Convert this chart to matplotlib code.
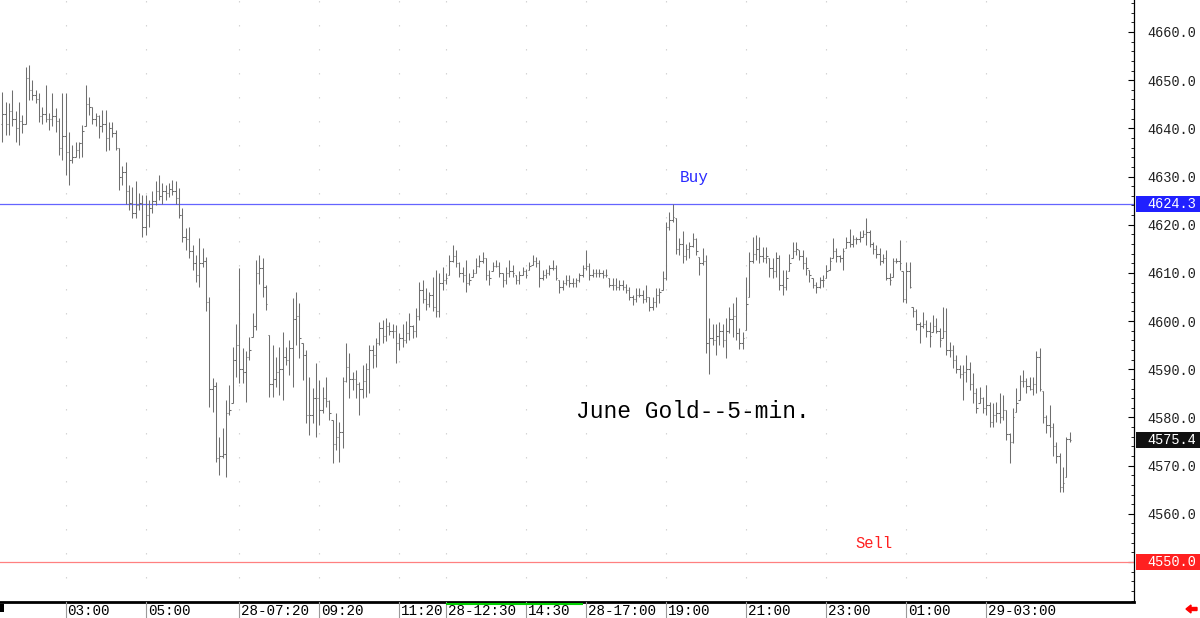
import numpy as np
import matplotlib
matplotlib.use("Agg")
import matplotlib.pyplot as plt
from matplotlib.transforms import blended_transform_factory
from matplotlib.patches import Rectangle, FancyArrow

# ---------------- data (5-minute June Gold bars) ----------------
highs1 = [4647.6, 4645.5, 4645.2, 4648.0, 4643.5, 4645.5, 4642.8, 4652.8, 4653.2, 4650.0,
          4648.0, 4647.3, 4644.5, 4649.0, 4643.1, 4647.3, 4644.2, 4642.1, 4647.3, 4647.3,
          4639.3, 4636.5, 4637.2, 4637.2, 4640.7, 4649.0, 4646.6, 4644.5, 4643.1, 4642.8,
          4643.8, 4643.8, 4641.4, 4641.4, 4639.7, 4635.9, 4632.1, 4633.1, 4628.3, 4627.9]
lows1 = [4637.2, 4638.6, 4638.6, 4640.4, 4637.2, 4636.5, 4639.0, 4641.0, 4645.9, 4645.9,
         4645.2, 4641.4, 4641.0, 4641.4, 4639.7, 4640.4, 4639.3, 4634.5, 4633.4, 4630.3,
         4628.3, 4632.8, 4634.1, 4633.8, 4634.1, 4640.4, 4642.8, 4641.0, 4640.4, 4637.9,
         4639.3, 4635.2, 4635.5, 4638.3, 4635.5, 4627.2, 4628.3, 4624.4, 4623.1, 4621.3]
closes1 = [4643.0, 4641.0, 4643.5, 4642.0, 4640.0, 4641.5, 4641.0, 4650.5, 4648.0, 4647.0,
           4646.0, 4642.5, 4643.0, 4642.0, 4642.0, 4642.5, 4641.5, 4636.0, 4638.5, 4635.0,
           4633.5, 4634.0, 4635.5, 4637.0, 4639.5, 4645.0, 4644.5, 4642.0, 4642.5, 4640.5,
           4641.0, 4638.0, 4640.0, 4639.0, 4636.0, 4630.0, 4631.0, 4627.0, 4624.5, 4622.5]

highs2 = [4629.0, 4626.5, 4626.2, 4626.2, 4625.1, 4626.9, 4629.0, 4630.3, 4628.6, 4628.2,
          4628.6, 4629.3, 4629.0, 4627.6, 4623.4, 4619.3, 4619.6, 4615.8, 4613.7, 4617.2,
          4615.1, 4613.4, 4605.1, 4588.1, 4587.4, 4576.0, 4577.8, 4583.6, 4586.7, 4594.7,
          4599.5, 4611.0, 4594.4, 4593.7, 4596.8, 4601.6, 4612.7, 4613.7, 4613.0, 4607.5,
          4597.1]
lows2 = [4621.3, 4623.0, 4617.5, 4617.9, 4619.6, 4622.4, 4624.1, 4625.1, 4624.4, 4625.1,
         4625.8, 4626.2, 4624.4, 4621.3, 4616.5, 4614.8, 4613.0, 4610.6, 4608.2, 4607.1,
         4611.3, 4602.0, 4582.2, 4581.2, 4570.8, 4568.1, 4571.5, 4567.7, 4580.5, 4582.9,
         4588.5, 4587.1, 4587.1, 4583.3, 4592.0, 4596.8, 4598.2, 4607.8, 4605.1, 4602.3,
         4584.3]
closes2 = [4624.0, 4624.5, 4619.5, 4622.0, 4623.5, 4625.0, 4627.0, 4626.0, 4627.0, 4626.5,
           4627.5, 4627.0, 4625.5, 4622.0, 4617.5, 4617.0, 4614.5, 4612.0, 4609.5, 4612.0,
           4612.5, 4604.0, 4586.0, 4586.5, 4571.5, 4572.0, 4572.5, 4581.0, 4581.5, 4592.0,
           4595.0, 4590.0, 4589.5, 4592.5, 4594.0, 4599.0, 4610.0, 4611.0, 4607.0, 4603.5,
           4587.0]

highs3 = [4595.0, 4592.6, 4594.7, 4597.8, 4594.7, 4596.1, 4604.7, 4606.1, 4603.7, 4595.4,
          4594.0, 4588.5, 4586.1, 4591.2, 4587.8, 4586.4, 4588.5, 4583.6, 4579.5, 4580.9,
          4579.1, 4588.5, 4595.4, 4593.3, 4589.5, 4589.8, 4587.4, 4590.9, 4591.2, 4595.0,
          4595.0, 4596.4, 4599.9, 4600.2, 4600.6, 4599.9, 4599.5, 4599.2, 4597.5, 4599.5]
lows3 = [4584.3, 4586.4, 4584.7, 4583.6, 4590.9, 4588.8, 4586.4, 4595.0, 4592.3, 4587.8,
         4578.8, 4576.4, 4578.8, 4576.0, 4578.4, 4580.9, 4582.2, 4579.5, 4570.5, 4573.3,
         4570.8, 4573.6, 4587.4, 4584.0, 4585.7, 4584.0, 4580.5, 4584.0, 4584.3, 4585.0,
         4590.2, 4590.5, 4595.0, 4595.4, 4595.8, 4597.1, 4596.4, 4591.2, 4594.0, 4594.7]
closes3 = [4588.0, 4589.5, 4590.0, 4592.5, 4592.0, 4594.5, 4600.5, 4601.0, 4596.5, 4593.0,
           4580.5, 4580.5, 4584.0, 4584.0, 4581.5, 4584.0, 4583.5, 4581.0, 4574.5, 4576.0,
           4577.0, 4587.5, 4590.5, 4588.0, 4588.0, 4587.0, 4586.0, 4587.5, 4590.0, 4594.0,
           4593.0, 4595.5, 4598.5, 4597.0, 4599.0, 4598.0, 4598.0, 4595.5, 4596.5, 4596.0]

highs4 = [4600.0, 4601.6, 4599.2, 4602.7, 4608.2, 4608.5, 4606.8, 4606.1, 4609.2, 4610.6,
          4609.9, 4611.3, 4609.9, 4613.7, 4615.8, 4614.8, 4612.3, 4611.3, 4612.7, 4609.9,
          4610.9, 4613.0, 4613.7, 4614.4, 4613.0, 4610.6, 4612.3, 4612.7, 4612.3, 4609.9,
          4611.3, 4612.7, 4611.6, 4609.6, 4610.3, 4611.3, 4610.9, 4612.3, 4613.7, 4613.4]
lows4 = [4595.5, 4596.0, 4596.5, 4596.8, 4600.2, 4603.7, 4602.3, 4603.0, 4602.0, 4600.9,
         4600.9, 4606.5, 4607.8, 4609.6, 4612.3, 4611.3, 4609.2, 4608.2, 4606.1, 4607.5,
         4609.2, 4609.9, 4611.3, 4612.0, 4608.5, 4607.5, 4610.3, 4611.3, 4609.2, 4607.1,
         4607.8, 4609.2, 4609.2, 4607.8, 4607.8, 4609.6, 4608.9, 4610.6, 4611.6, 4611.3]
closes4 = [4597.5, 4599.0, 4598.0, 4601.0, 4606.5, 4604.5, 4603.5, 4605.5, 4603.0, 4602.0,
           4608.0, 4608.5, 4609.0, 4612.5, 4613.5, 4612.0, 4610.0, 4609.5, 4608.0, 4608.5,
           4610.0, 4611.5, 4612.5, 4613.0, 4609.5, 4609.0, 4611.5, 4611.5, 4610.0, 4608.5,
           4610.0, 4610.5, 4610.0, 4608.5, 4609.5, 4610.5, 4609.5, 4611.5, 4612.5, 4612.0]

highs5 = [4612.7, 4610.6, 4610.9, 4611.6, 4612.7, 4611.6, 4608.5, 4608.5, 4609.6, 4609.6,
          4608.9, 4608.9, 4609.9, 4611.6, 4614.8, 4612.0, 4610.9, 4610.9, 4610.9, 4610.6,
          4610.9, 4608.9, 4608.9, 4608.9, 4608.5, 4608.5, 4607.8, 4607.1, 4605.4, 4606.8,
          4606.8, 4606.5, 4607.5, 4605.1, 4605.1, 4606.8, 4606.8, 4610.3, 4620.6, 4622.7,
          4624.3]
lows5 = [4607.1, 4608.5, 4608.9, 4609.6, 4610.6, 4608.5, 4605.8, 4606.5, 4607.5, 4607.1,
         4607.1, 4607.1, 4608.2, 4609.2, 4610.6, 4608.5, 4609.2, 4609.2, 4609.2, 4608.9,
         4609.2, 4607.1, 4606.5, 4606.5, 4606.5, 4606.5, 4605.8, 4604.4, 4603.3, 4604.0,
         4605.1, 4603.7, 4604.0, 4602.0, 4602.3, 4603.0, 4603.7, 4606.5, 4608.5, 4618.9,
         4620.6]
closes5 = [4609.0, 4609.5, 4610.0, 4611.0, 4611.0, 4609.0, 4607.0, 4608.0, 4608.5, 4608.0,
           4608.0, 4608.5, 4609.5, 4611.0, 4611.5, 4609.5, 4610.0, 4610.0, 4610.0, 4609.5,
           4609.5, 4607.5, 4607.5, 4607.0, 4607.5, 4607.0, 4606.5, 4605.0, 4604.5, 4605.5,
           4605.5, 4604.5, 4605.0, 4603.0, 4604.0, 4605.5, 4606.0, 4609.0, 4619.5, 4621.0,
           4621.5]

highs6 = [4621.3, 4617.2, 4618.6, 4616.1, 4616.5, 4618.2, 4617.2, 4613.4, 4615.1, 4613.7,
          4600.6, 4599.5, 4599.5, 4599.9, 4599.5, 4600.6, 4603.0, 4603.7, 4605.1, 4598.5,
          4597.8, 4609.2, 4614.4, 4617.5, 4617.9, 4617.5, 4615.4, 4615.4, 4613.0, 4613.0,
          4614.4, 4613.7, 4610.6, 4610.6, 4614.0, 4616.5, 4616.5, 4614.8, 4614.8, 4613.4]
lows6 = [4614.0, 4613.7, 4612.0, 4612.7, 4613.0, 4615.4, 4613.7, 4609.6, 4611.6, 4593.3,
         4589.1, 4595.0, 4592.9, 4595.0, 4594.7, 4592.3, 4597.5, 4596.8, 4596.1, 4594.3,
         4594.3, 4598.2, 4605.1, 4612.0, 4612.7, 4612.0, 4612.3, 4612.0, 4609.2, 4608.9,
         4609.2, 4606.5, 4605.4, 4606.5, 4610.3, 4613.0, 4613.7, 4612.7, 4610.9, 4609.6]
closes6 = [4615.0, 4616.0, 4613.5, 4615.0, 4615.5, 4617.0, 4614.5, 4612.0, 4612.5, 4595.5,
           4596.5, 4596.0, 4597.0, 4598.0, 4596.0, 4598.0, 4600.5, 4601.0, 4597.5, 4595.5,
           4596.5, 4603.5, 4612.5, 4614.0, 4615.0, 4613.5, 4613.0, 4613.5, 4611.0, 4610.5,
           4613.0, 4607.5, 4607.0, 4609.0, 4612.0, 4614.5, 4615.0, 4613.5, 4612.0, 4611.0]

highs7 = [4610.6, 4608.9, 4608.2, 4609.2, 4609.6, 4611.6, 4613.4, 4617.2, 4615.1, 4613.7,
          4615.1, 4617.5, 4619.2, 4617.9, 4617.5, 4618.6, 4618.9, 4621.3, 4618.9, 4616.5,
          4615.8, 4615.1, 4614.0, 4614.8, 4609.9, 4613.0, 4613.0, 4616.8, 4610.3, 4612.3,
          4612.3, 4603.0, 4602.6, 4599.9, 4601.9, 4600.2, 4599.9, 4601.3, 4600.6, 4598.5]
lows7 = [4608.2, 4606.8, 4605.8, 4606.8, 4607.1, 4608.9, 4610.6, 4613.0, 4612.3, 4612.3,
         4610.6, 4615.1, 4615.4, 4615.4, 4616.1, 4616.5, 4617.5, 4615.8, 4615.4, 4614.0,
         4613.0, 4611.6, 4612.0, 4608.5, 4607.5, 4609.2, 4612.0, 4610.6, 4604.0, 4603.7,
         4606.8, 4600.9, 4598.2, 4595.4, 4598.5, 4596.8, 4594.7, 4597.8, 4597.5, 4594.7]
closes7 = [4609.5, 4607.5, 4607.0, 4608.5, 4608.5, 4610.5, 4612.5, 4614.5, 4613.5, 4613.0,
           4614.5, 4616.5, 4616.0, 4617.0, 4617.0, 4617.5, 4618.0, 4618.5, 4616.0, 4615.0,
           4614.0, 4612.5, 4613.0, 4609.0, 4608.5, 4612.5, 4612.5, 4612.0, 4604.5, 4610.5,
           4607.0, 4602.0, 4599.5, 4599.0, 4599.5, 4598.0, 4597.0, 4599.0, 4598.0, 4596.0]

highs8 = [4603.0, 4602.7, 4595.7, 4595.0, 4593.0, 4590.9, 4590.9, 4593.0, 4591.6, 4589.2,
          4586.1, 4586.4, 4584.3, 4586.7, 4583.3, 4582.9, 4583.3, 4585.0, 4584.7, 4581.6,
          4576.7, 4581.9, 4586.1, 4588.8, 4589.9, 4588.1, 4588.5, 4588.5, 4593.7, 4594.4,
          4585.4, 4580.5, 4582.6, 4578.8, 4575.0, 4572.6, 4569.8, 4576.0, 4577.0]
lows8 = [4596.4, 4593.0, 4592.6, 4590.2, 4589.2, 4588.1, 4583.6, 4587.4, 4585.7, 4583.0,
         4580.9, 4583.0, 4580.9, 4580.5, 4578.1, 4578.1, 4579.1, 4578.8, 4579.5, 4575.3,
         4570.5, 4574.6, 4581.2, 4583.6, 4586.4, 4585.0, 4585.7, 4584.7, 4585.0, 4585.4,
         4578.8, 4576.7, 4576.0, 4571.9, 4570.5, 4564.6, 4564.6, 4567.7, 4575.0]
closes8 = [4598.0, 4594.0, 4594.0, 4592.0, 4590.0, 4589.0, 4589.5, 4590.0, 4587.0, 4585.0,
           4582.0, 4584.0, 4582.0, 4582.5, 4579.0, 4580.5, 4581.0, 4580.0, 4581.5, 4576.5,
           4575.0, 4580.0, 4583.0, 4587.5, 4587.5, 4586.5, 4586.0, 4587.0, 4592.5, 4586.0,
           4580.0, 4578.5, 4578.0, 4574.0, 4572.0, 4565.5, 4566.5, 4575.5, 4575.4]

first_open = 4641.0

time_labels = ["03:00", "05:00", "28-07:20", "09:20", "11:20", "28-12:30", "14:30",
               "28-17:00", "19:00", "21:00", "23:00", "01:00", "29-03:00"]
time_bar_idx = [19, 43, 71, 95, 119, 133, 157, 175, 199, 223, 247, 271, 295]
session_bar_span = [133, 174]          # green marked session on time axis

price_ticks = [4560, 4570, 4580, 4590, 4600, 4610, 4620, 4630, 4640, 4650, 4660]
buy_level = 4624.3
sell_level = 4550.0
last_price = 4575.4

# ---------------- assemble ----------------
highs = np.array(highs1 + highs2 + highs3 + highs4 + highs5 + highs6 + highs7 + highs8)
lows = np.array(lows1 + lows2 + lows3 + lows4 + lows5 + lows6 + lows7 + lows8)
closes = np.array(closes1 + closes2 + closes3 + closes4 + closes5 + closes6 + closes7 + closes8)
n = len(highs)
assert len(lows) == n and len(closes) == n
closes = np.clip(closes, lows, highs)
opens = np.clip(np.concatenate([[first_open], closes[:-1]]), lows, highs)
x = np.arange(n)

W, H = 1200, 618
MONO = "Liberation Mono"
fig = plt.figure(figsize=(W / 100, H / 100), dpi=100)
fig.patch.set_facecolor("white")
ax = fig.add_axes([0, (H - 602) / H, 1134 / W, 602 / H])
ax.set_facecolor("white")
ax.set_xlim(-0.72, 339.3)
ax.set_ylim(4541.70, 4666.64)

for s in ("top", "left"):
    ax.spines[s].set_visible(False)
ax.spines["right"].set_color("black")
ax.spines["right"].set_linewidth(0.9)
ax.spines["bottom"].set_color("black")
ax.spines["bottom"].set_linewidth(2.0)

# vertical dotted time grid (very faint)
for k in time_bar_idx:
    ax.axvline(k, color="#d2d2d2", lw=0.8, linestyle=(0, (1.3, 20.3)), zorder=0)

# OHLC bars
bar_col = "#6e6e6e"
ax.vlines(x, lows, highs, color=bar_col, lw=0.75, zorder=3)
ax.hlines(opens, x - 0.42, x, color=bar_col, lw=0.75, zorder=3)
ax.hlines(closes, x, x + 0.42, color=bar_col, lw=0.75, zorder=3)

# buy / sell lines
ax.axhline(buy_level, color="#6464ff", lw=0.9, zorder=2)
ax.axhline(sell_level, color="#ff8080", lw=0.9, zorder=2)

ax.text(203.2, 4629.7, "Buy", color="#2a2aff", fontsize=11.5, family=MONO,
        ha="left", va="center")
ax.text(255.7, 4553.9, "Sell", color="#ff2020", fontsize=11.2, family=MONO,
        ha="left", va="center")
ax.text(172.0, 4581.3, "June Gold--5-min.", color="black", fontsize=16.5, family=MONO,
        ha="left", va="center")

# right price axis
ax.yaxis.tick_right()
ax.set_yticks([sell_level] + price_ticks)
ax.set_yticklabels([""] + [f"{p:.1f}" for p in price_ticks])
ax.set_yticks(np.arange(4542, 4667, 2), minor=True)
ax.tick_params(axis="y", which="major", direction="in", length=4, width=0.8,
               pad=9.4, labelsize=9.8, colors="black")
ax.tick_params(axis="y", which="minor", direction="in", length=2, width=0.6)
for lbl in ax.get_yticklabels():
    lbl.set_family(MONO)
    lbl.set_color("#222222")

trans_fy = blended_transform_factory(fig.transFigure, ax.transData)
box_h = 16 / 4.818
for val, bg in [(buy_level, "#2020ff"), (last_price, "#111111"), (sell_level, "#ff2020")]:
    ax.add_patch(Rectangle((1136 / W, val - box_h / 2), 64 / W, box_h, transform=trans_fy,
                           facecolor=bg, edgecolor="none", clip_on=False, zorder=5))
    ax.text(1147 / W, val, f"{val:.1f}", transform=trans_fy, color="white",
            fontsize=9.8, family=MONO, ha="left", va="center", zorder=6, clip_on=False)

# bottom time axis
ax.set_xticks([])
trans_xa = blended_transform_factory(ax.transData, ax.transAxes)
for k, lab in zip(time_bar_idx, time_labels):
    ax.plot([k, k], [0, -16 / 602], color="#9a9a9a", lw=0.8, transform=trans_xa,
            clip_on=False, zorder=4)
    ax.text(k + 0.55, -8.8 / 602, lab, transform=trans_xa, fontsize=10.3, family=MONO,
            ha="left", va="center", color="black", clip_on=False)
ax.plot(session_bar_span, [-2.2 / 602] * 2, color="#00d000", lw=1.5, transform=trans_xa,
        clip_on=False, zorder=5, solid_capstyle="butt")

fig.patches.append(Rectangle((0, (H - 612) / H), 4 / W, 8 / H, transform=fig.transFigure,
                             facecolor="black", edgecolor="none"))
fig.patches.append(FancyArrow(1197 / W, (H - 609) / H, -11 / W, 0, width=3 / H,
                              head_width=8 / H, head_length=5 / W,
                              length_includes_head=True, transform=fig.transFigure,
                              color="#ff0000"))

fig.savefig("out.png", dpi=100, facecolor="white")
